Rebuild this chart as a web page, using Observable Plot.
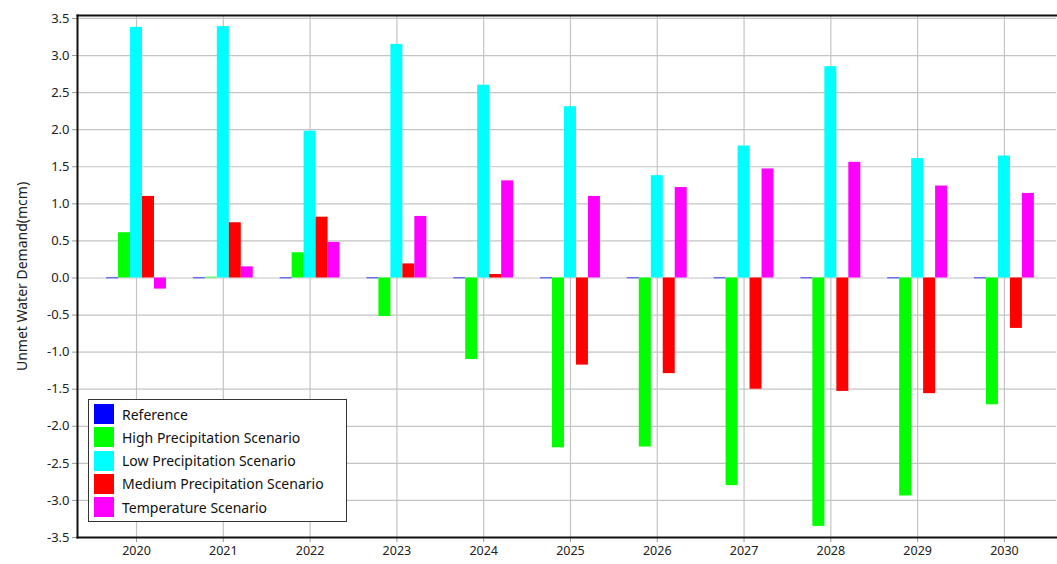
<!DOCTYPE html>
<html>
<head>
<meta charset="utf-8">
<script src="https://cdn.jsdelivr.net/npm/d3@7"></script>
<script src="https://cdn.jsdelivr.net/npm/@observablehq/plot@0.6"></script>
<style>
  html, body { margin: 0; padding: 0; background: #fff; }
  #wrap { position: relative; width: 1057px; height: 564px; font-family: "Noto Sans", sans-serif; }
  #legend { position: absolute; left: 88px; top: 399px; width: 257px; height: 121px; background: #fff;
            border: 1px solid #333; box-sizing: content-box; }
  .item { position: absolute; left: 5px; height: 20px; display: flex; align-items: center; font-size: 14px; color: #111; white-space: nowrap; }
  .sw { width: 20px; height: 20px; margin-right: 8px; flex: none; }
</style>
</head>
<body>
<div id="wrap"></div>
<script>
const years = [2020, 2021, 2022, 2023, 2024, 2025, 2026, 2027, 2028, 2029, 2030];
const seriesNames = ["Reference", "High Precipitation Scenario", "Low Precipitation Scenario", "Medium Precipitation Scenario", "Temperature Scenario"];
const seriesColors = ["#0000ff", "#00ff00", "#00ffff", "#ff0000", "#ff00ff"];
const reference = [-0.01, -0.01, -0.01, -0.01, -0.01, -0.01, -0.01, -0.01, -0.01, -0.01, -0.01];
const highPrecip = [0.61, 0.01, 0.34, -0.52, -1.10, -2.29, -2.28, -2.80, -3.35, -2.94, -1.71];
const lowPrecip = [3.38, 3.39, 1.98, 3.15, 2.60, 2.31, 1.38, 1.78, 2.85, 1.61, 1.645];
const medPrecip = [1.10, 0.745, 0.82, 0.19, 0.047, -1.175, -1.29, -1.50, -1.53, -1.56, -0.68];
const temperature = [-0.15, 0.15, 0.48, 0.83, 1.31, 1.10, 1.22, 1.47, 1.56, 1.24, 1.14];
const yTicks = [-3.5, -3, -2.5, -2, -1.5, -1, -0.5, 0, 0.5, 1, 1.5, 2, 2.5, 3, 3.5];

const seriesValues = [reference, highPrecip, lowPrecip, medPrecip, temperature];
const barW = 0.138; // fraction of a year step taken by each bar
const data = [];
seriesValues.forEach((vals, i) => {
  vals.forEach((v, j) => {
    data.push({
      series: seriesNames[i],
      year: years[j],
      value: v,
      x1: years[j] + (i - 2.5) * barW,
      x2: years[j] + (i - 1.5) * barW
    });
  });
});

const chart = Plot.plot({
  width: 1057,
  height: 564,
  marginLeft: 77,
  marginRight: 1,
  marginTop: 15,
  marginBottom: 27,
  style: { fontFamily: "Noto Sans, sans-serif", fontSize: "12px", color: "#222", background: "#fff" },
  x: { domain: [2019.32, 2030.6] },
  y: { domain: [-3.5, 3.54] },
  color: { domain: seriesNames, range: seriesColors },
  marks: [
    Plot.gridY(yTicks, { stroke: "#c4c4c4", strokeOpacity: 1, strokeWidth: 1.2 }),
    Plot.gridX(years, { stroke: "#c4c4c4", strokeOpacity: 1, strokeWidth: 1.2 }),
    Plot.rectY(data, { x1: "x1", x2: "x2", y: "value", fill: "series" }),
    Plot.axisY(yTicks, {
      tickFormat: d => d.toFixed(1), tickSize: 5, tickPadding: 3, stroke: "#999",
      label: null, fontSize: 13
    }),
    Plot.axisY({
      ticks: [], label: "Unmet Water Demand(mcm)", labelArrow: "none",
      labelAnchor: "center", labelOffset: 60, fontSize: 14
    }),
    Plot.axisX(years, { tickFormat: d => String(d), tickSize: 5, tickPadding: 4, stroke: "#999", label: null, fontSize: 12.5 }),
    Plot.frame({ anchor: "top", stroke: "#111", strokeWidth: 2 }),
    Plot.frame({ anchor: "left", stroke: "#111", strokeWidth: 2 }),
    Plot.frame({ anchor: "bottom", stroke: "#111", strokeWidth: 2 })
  ]
});
const wrap = document.getElementById("wrap");
wrap.appendChild(chart);

const legend = document.createElement("div");
legend.id = "legend";
seriesNames.forEach((name, i) => {
  const it = document.createElement("div");
  it.className = "item";
  it.style.top = (4 + i * 23.3) + "px";
  const sw = document.createElement("div");
  sw.className = "sw";
  sw.style.background = seriesColors[i];
  it.appendChild(sw);
  it.appendChild(document.createTextNode(name));
  legend.appendChild(it);
});
wrap.appendChild(legend);
</script>
</body>
</html>
